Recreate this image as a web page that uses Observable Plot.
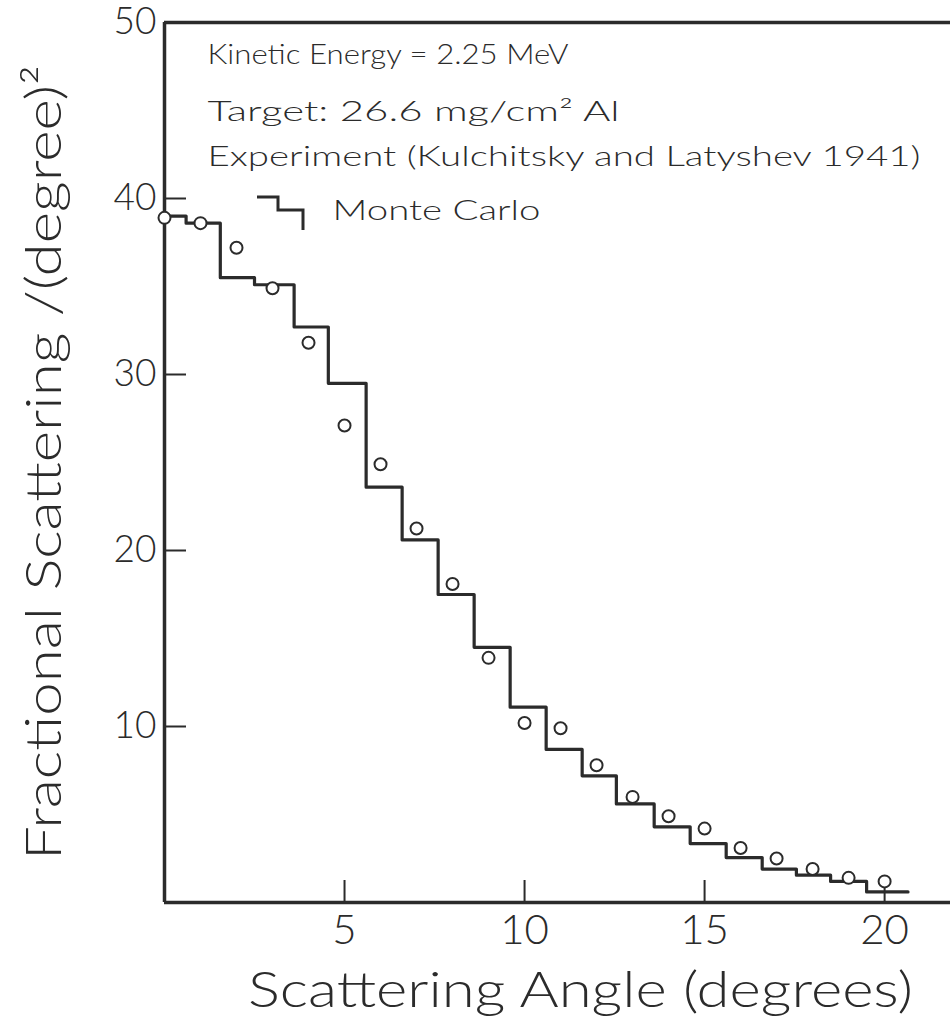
<!DOCTYPE html>
<html>
<head>
<meta charset="utf-8">
<script src="https://cdn.jsdelivr.net/npm/d3@7"></script>
<script src="https://cdn.jsdelivr.net/npm/@observablehq/plot@0.6"></script>
<style>
  html, body { margin: 0; padding: 0; background: #ffffff; }
  #chart svg { display: block; }
</style>
</head>
<body>
<div id="chart"></div>
<script>
// ---- Data ----
// Experiment (Kulchitsky and Latyshev 1941): angle (deg) and fractional scattering
const expAngle = [0, 1, 2, 3, 4, 5, 6, 7, 8, 9, 10, 11, 12, 13, 14, 15, 16, 17, 18, 19, 20];
const expValue = [38.9, 38.6, 37.2, 34.9, 31.8, 27.1, 24.9, 21.25, 18.1, 13.9, 10.2, 9.9, 7.8, 6.0, 4.9, 4.2, 3.1, 2.5, 1.9, 1.4, 1.2];

// Monte Carlo histogram: left edge of each bin and its level; right end of the last bin
const mcBinStart = [0, 0.6, 1.55, 2.5, 3.6, 4.55, 5.6, 6.6, 7.6, 8.6, 9.6, 10.6, 11.6, 12.55, 13.6, 14.6, 15.6, 16.6, 17.55, 18.5, 19.5];
const mcValue    = [39.0, 38.6, 35.5, 35.1, 32.7, 29.5, 23.6, 20.6, 17.5, 14.5, 11.1, 8.7, 7.2, 5.6, 4.3, 3.35, 2.55, 1.9, 1.55, 1.2, 0.6];
const mcEnd = 20.65;

const xTicks = [5, 10, 15, 20];
const yTicks = [10, 20, 30, 40, 50];
const xDomain = [0, 21.83];
const yDomain = [0, 50];

const xTitle = "Scattering Angle (degrees)";
const yTitle = "Fractional Scattering /(degree)²";
const note1 = "Kinetic Energy = 2.25 MeV";
const note2 = "Target: 26.6 mg/cm² Al";
const note3 = "Experiment (Kulchitsky and Latyshev 1941)";
const mcLabel = "Monte Carlo";

// ---- Build tables ----
const expData = expAngle.map((a, i) => ({x: a, y: expValue[i]}));
const mcData = mcBinStart.map((s, i) => ({x: s, y: mcValue[i]}));
mcData.push({x: mcEnd, y: mcValue[mcValue.length - 1]});

const ink = "#2b2b2b";
const font = "Lato, 'DejaVu Sans', sans-serif";

// legend step symbol drawn relative to the frame
function legendStep(index, scales, values, dims) {
  const x0 = dims.marginLeft, y0 = dims.marginTop;
  const g = d3.create("svg:g");
  g.append("path")
    .attr("d", `M${x0 + 93},${y0 + 175}H${x0 + 114}V${y0 + 188}H${x0 + 139}V${y0 + 208}`)
    .attr("fill", "none").attr("stroke", ink).attr("stroke-width", 3);
  return g.node();
}

const note = (t, dy, dx = 43) => Plot.text([t], {
  text: d => d, frameAnchor: "top-left", textAnchor: "start", lineAnchor: "middle",
  dx, dy, fontSize: 28, fontWeight: 300, fill: ink
});

const plot = Plot.plot({
  width: 950,
  height: 1025,
  marginLeft: 164,
  marginRight: 0,
  marginTop: 22,
  marginBottom: 123,
  style: {fontFamily: font, color: ink, background: "#ffffff", fontWeight: 300},
  x: {domain: xDomain},
  y: {domain: yDomain},
  marks: [
    // frame (left, bottom, top)
    Plot.ruleX([xDomain[0]], {stroke: ink, strokeWidth: 3.5}),
    Plot.ruleY([yDomain[0]], {stroke: ink, strokeWidth: 3.5}),
    Plot.ruleY([yDomain[1]], {stroke: ink, strokeWidth: 3.5}),
    Plot.axisX({ticks: xTicks, tickSize: -22, tickPadding: 34, fontSize: 42, strokeWidth: 2, label: null, tickFormat: d => d}),
    Plot.axisY({ticks: yTicks, tickSize: -22, tickPadding: 30, fontSize: 37, strokeWidth: 2, label: null, tickFormat: d => d}),
    Plot.line(mcData, {x: "x", y: "y", curve: "step-after", stroke: ink, strokeWidth: 3.2}),
    Plot.dot(expData, {x: "x", y: "y", r: 6, stroke: ink, strokeWidth: 2, fill: "white"}),
    note(note1, 33),
    note(note2, 90),
    note(note3, 135),
    legendStep,
    note(mcLabel, 189, 168),
    Plot.text([xTitle], {text: d => d, frameAnchor: "bottom", textAnchor: "middle", lineAnchor: "middle", dx: 23, dy: 88, fontSize: 50, fill: ink}),
    Plot.text([yTitle], {text: d => d, frameAnchor: "left", textAnchor: "middle", lineAnchor: "middle", rotate: -90, dx: -120, dy: 0, fontSize: 50, fill: ink})
  ]
});

// stretch the hand-lettered (wide) texts to the widths they have in the reference
const widths = new Map([[note1, 361], [note2, 412], [note3, 713], [mcLabel, 208], [xTitle, 665], [yTitle, 795]]);
d3.select(plot).selectAll("text").each(function() {
  const w = widths.get(this.textContent);
  if (w) {
    this.setAttribute("textLength", w);
    this.setAttribute("lengthAdjust", "spacingAndGlyphs");
  }
});

document.getElementById("chart").appendChild(plot);
</script>
</body>
</html>
